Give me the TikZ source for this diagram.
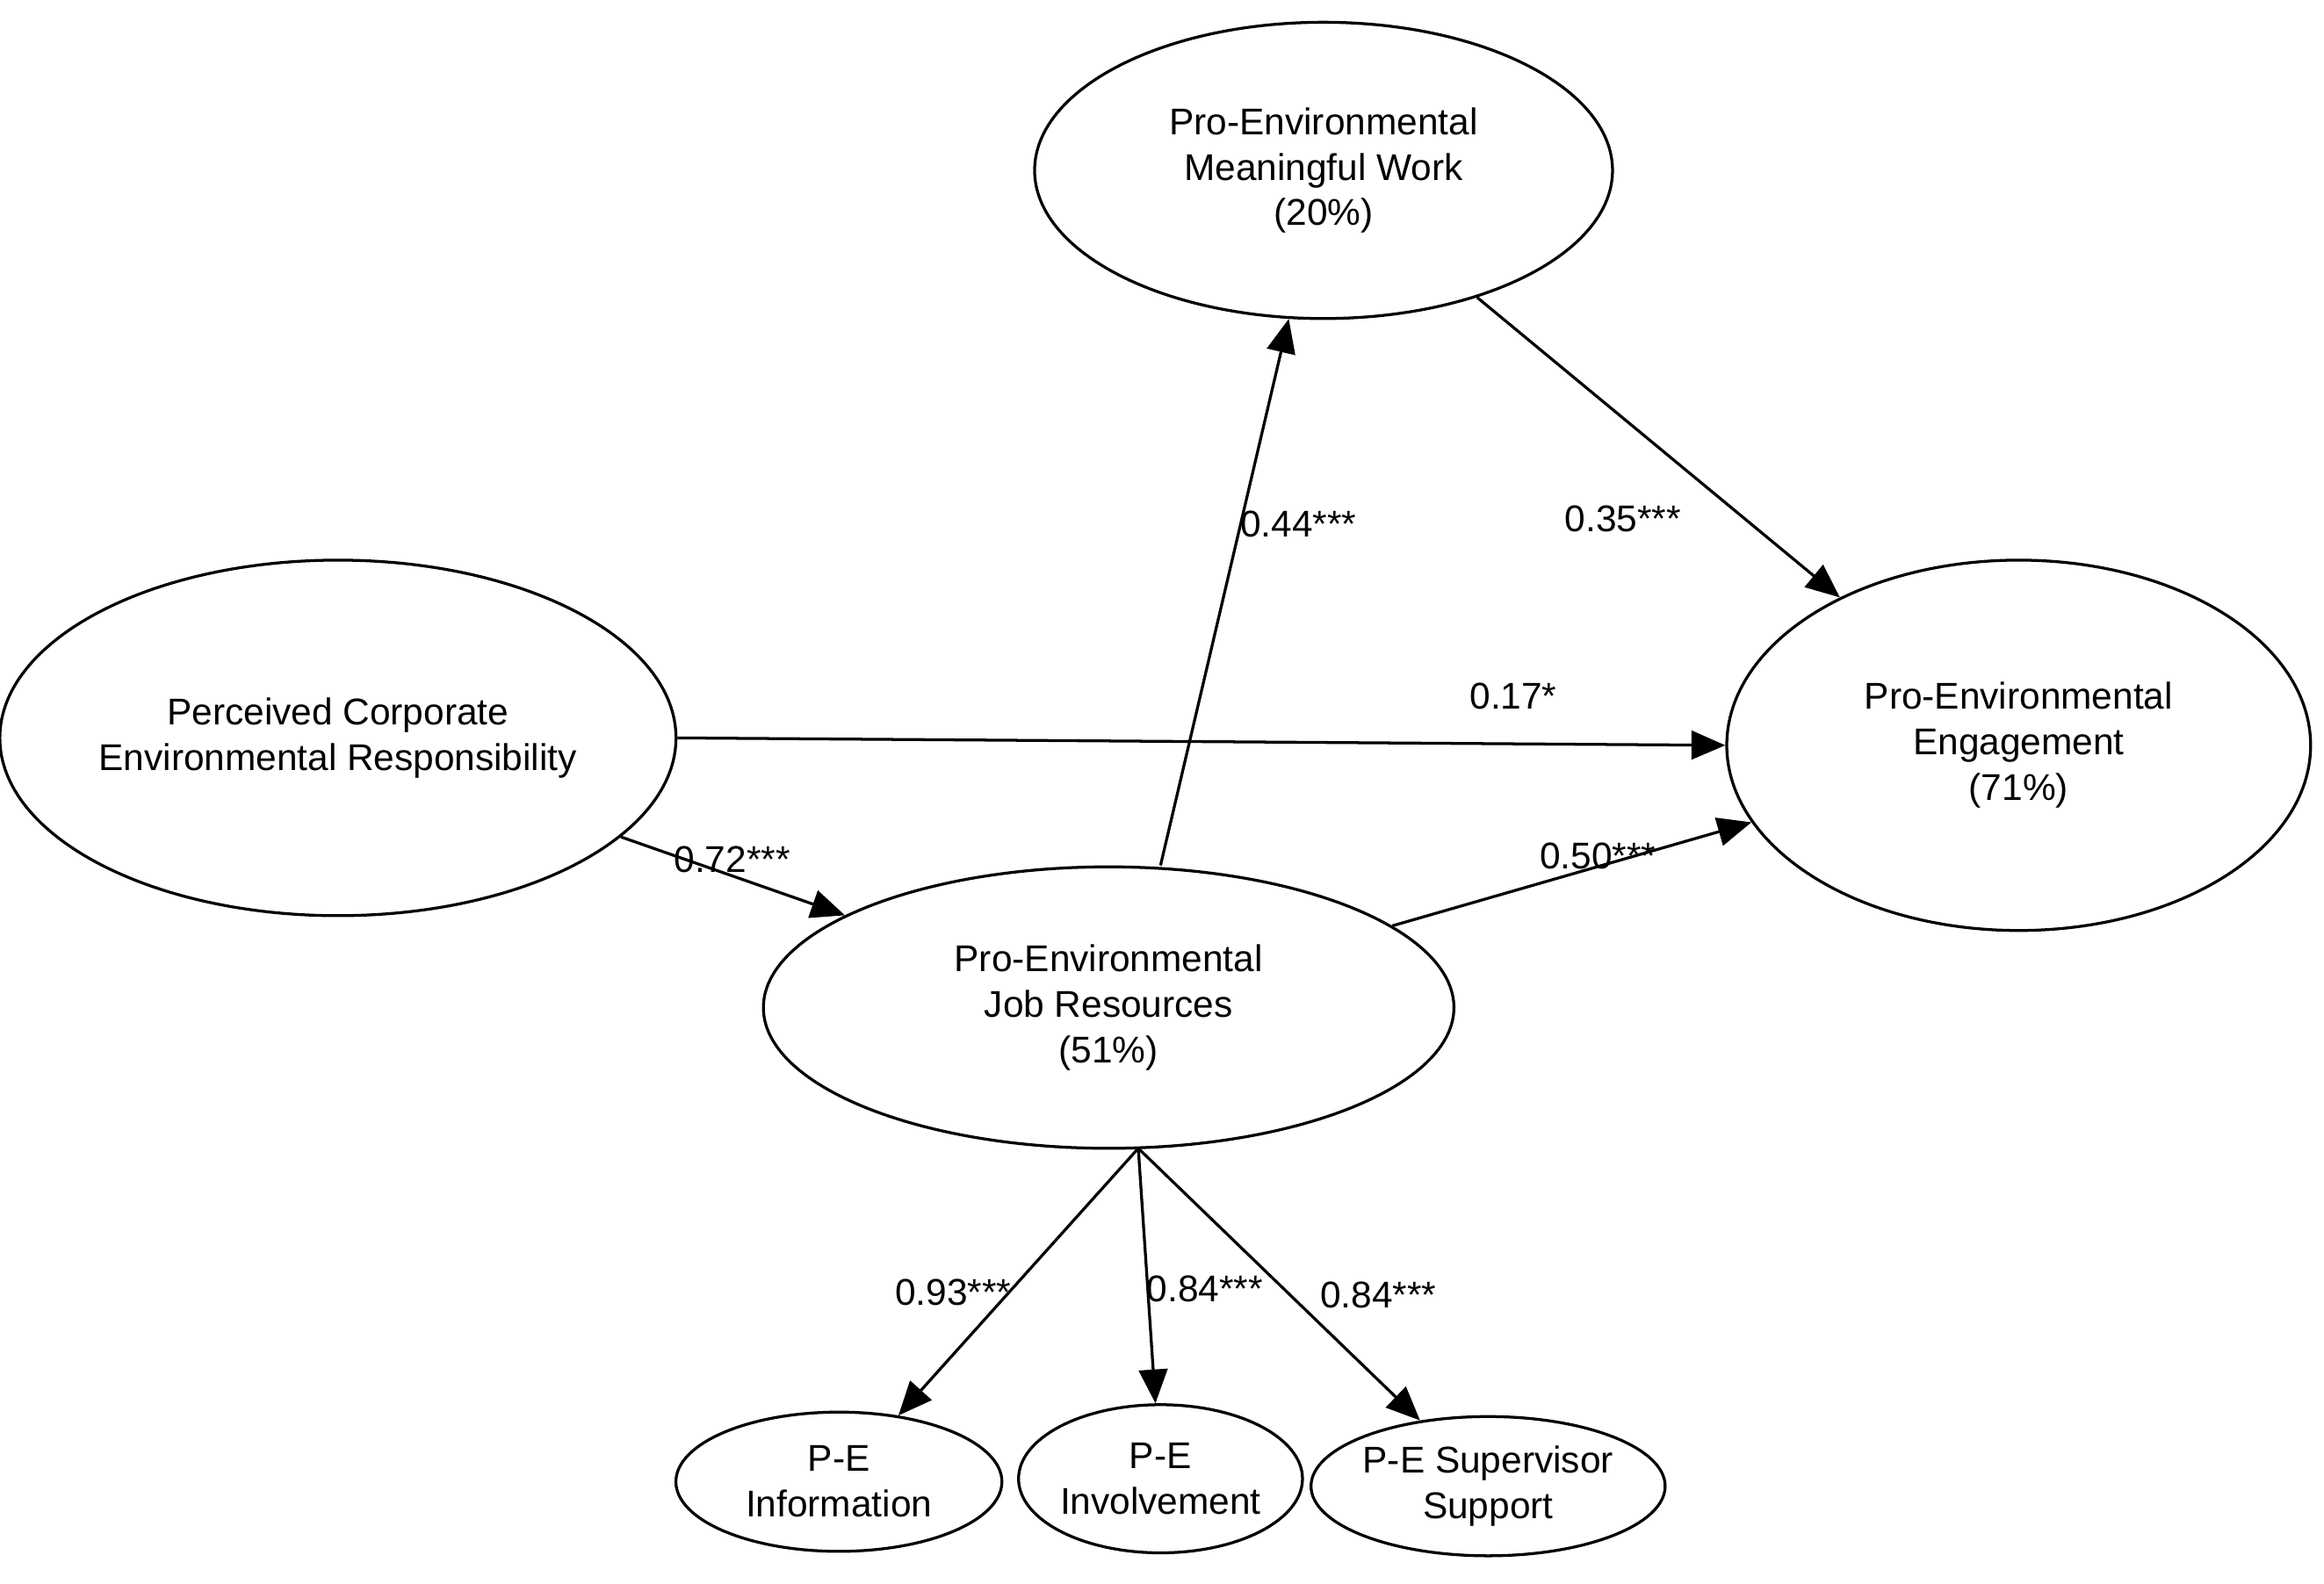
\documentclass[tikz,border=0pt]{standalone}
\usepackage{fontspec}
\setmainfont{Liberation Sans}
\usetikzlibrary{shapes.geometric,arrows.meta}
\begin{document}
\begin{tikzpicture}[x=0.02cm,y=-0.02cm,
  lv/.style={draw,ellipse,line width=1.1pt,inner sep=0pt,align=center,font=\fontsize{14.3}{17.5}\selectfont},
  arr/.style={line width=1.1pt,-{Triangle[length=13pt,width=11pt]}},
  lab/.style={font=\fontsize{14.3}{17}\selectfont,inner sep=0pt}]
\useasboundingbox[fill=white] (0,0) rectangle (1568,1069);
\node[lv,minimum width=390\pgfmath@x,minimum width=7.8cm,minimum height=4cm] (mw) at (893,115) {Pro-Environmental\\Meaningful Work\\(20\%)};
\node[lv,minimum width=8.6cm,minimum height=4.8cm] (pc) at (228,498) {Perceived Corporate\\Environmental Responsibility};
\node[lv,minimum width=7.88cm,minimum height=5cm] (en) at (1362,503) {Pro-Environmental\\Engagement\\(71\%)};
\node[lv,minimum width=9.32cm,minimum height=3.8cm] (jr) at (748,680) {Pro-Environmental\\Job Resources\\(51\%)};
\node[lv,minimum width=4.4cm,minimum height=1.88cm] (inf) at (566,1000) {P-E\\Information};
\node[lv,minimum width=3.8cm,minimum height=2cm] (inv) at (783,998) {P-E\\Involvement};
\node[lv,minimum width=4.32cm,minimum height=1.88cm] (sup) at (1004,1003) {P-E Supervisor\\Support};
\coordinate (jb) at (768,775);
\draw[arr] (pc) -- (jr);
\draw[arr] (pc.east) -- (en.west);
\draw[arr] (jr.north -| 783,0) -- (mw);
\draw[arr] (mw) -- (en);
\draw[arr] (jr) -- (en);
\draw[arr] (jb) -- (inf);
\draw[arr] (jb) -- (inv);
\draw[arr] (jb) -- (sup);
\node[lab] (l1) at (494,580) {0.72***};
\node[lab] (l2) at (1021,470) {0.17*};
\node[lab] (l3) at (876,354) {0.44***};
\node[lab] (l4) at (1095,350) {0.35***};
\node[lab] (l5) at (1078,578) {0.50***};
\node[lab] (l6) at (643,872) {0.93***};
\node[lab] (l7) at (813,870) {0.84***};
\node[lab] (l8) at (930,874) {0.84***};
\end{tikzpicture}
\end{document}
